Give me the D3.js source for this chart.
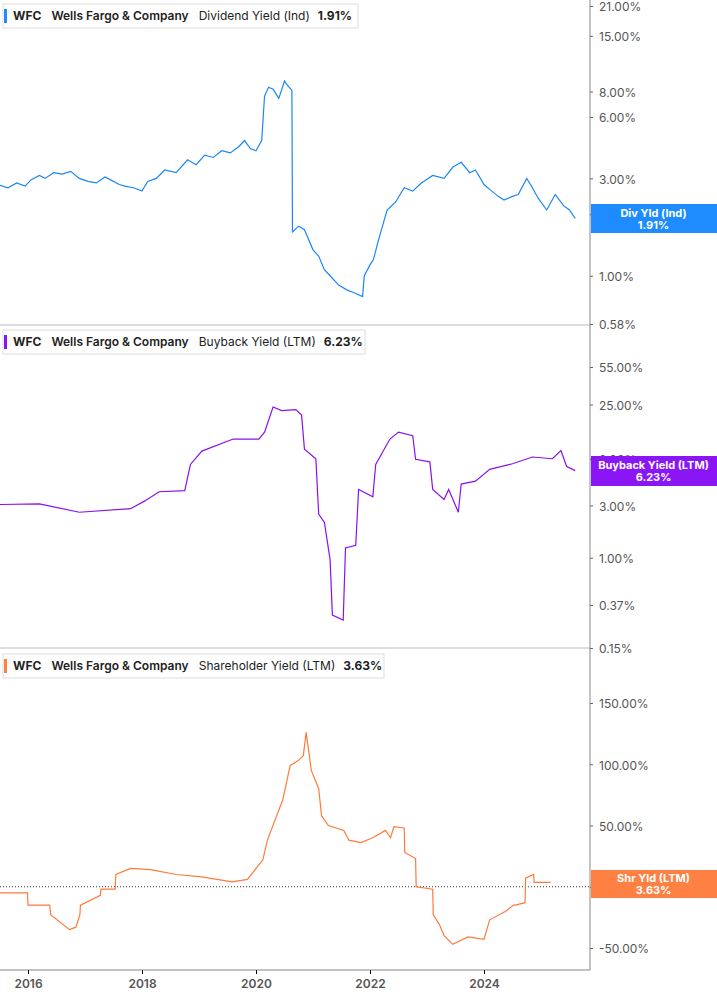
<!DOCTYPE html><html><head><meta charset="utf-8">
<script src="https://cdn.jsdelivr.net/npm/d3@7"></script>
<style>body{margin:0;background:#fff;font-family:Inter,"Noto Sans",sans-serif}</style></head><body>
<svg id="c" width="717" height="1005"></svg>
<script>
// decimal-year x positions and values (%)
const divX=[2015.5,2015.65,2015.8,2015.95,2016.05,2016.2,2016.3,2016.45,2016.6,2016.75,2016.9,2017.05,2017.2,2017.35,2017.45,2017.6,2017.7,2017.85,2018.0,2018.1,2018.25,2018.4,2018.6,2018.8,2018.95,2019.1,2019.25,2019.4,2019.55,2019.7,2019.8,2019.9,2020.0,2020.1,2020.15,2020.22,2020.3,2020.4,2020.5,2020.55,2020.63,2020.64,2020.75,2020.85,2021.0,2021.1,2021.2,2021.3,2021.45,2021.6,2021.7,2021.87,2021.9,2022.0,2022.06,2022.15,2022.3,2022.45,2022.6,2022.75,2022.9,2023.1,2023.3,2023.45,2023.6,2023.75,2023.85,2024.0,2024.1,2024.25,2024.35,2024.5,2024.6,2024.75,2024.85,2024.95,2025.1,2025.25,2025.4,2025.5,2025.6];
const divV=[2.78,2.7,2.85,2.75,2.95,3.1,3.0,3.2,3.15,3.25,3.0,2.9,2.85,3.05,2.95,2.8,2.75,2.7,2.6,2.9,3.0,3.3,3.2,3.7,3.5,3.9,3.8,4.1,4.0,4.3,4.6,4.2,4.1,4.6,7.6,8.4,8.2,7.4,9.0,8.6,8.1,1.64,1.75,1.68,1.34,1.25,1.07,1.0,0.9,0.85,0.83,0.79,1.0,1.13,1.2,1.5,2.1,2.3,2.7,2.6,2.85,3.1,3.0,3.4,3.6,3.2,3.3,2.8,2.65,2.45,2.35,2.45,2.5,3.0,2.7,2.4,2.1,2.5,2.2,2.1,1.91];
const bbX=[2015.5,2016.2,2016.9,2017.8,2018.05,2018.3,2018.75,2018.85,2019.05,2019.6,2020.05,2020.15,2020.3,2020.45,2020.7,2020.8,2020.85,2021.05,2021.1,2021.2,2021.3,2021.34,2021.53,2021.57,2021.75,2021.8,2022.05,2022.1,2022.35,2022.5,2022.75,2022.8,2023.05,2023.1,2023.3,2023.38,2023.55,2023.6,2023.85,2024.1,2024.5,2024.85,2025.2,2025.35,2025.45,2025.6];
const bbV=[3.06,3.1,2.6,2.8,3.3,4.0,4.1,7.1,9.4,12.1,12.1,14,23.7,22,22.5,20,9.8,8.0,2.5,2.1,0.96,0.3,0.27,1.23,1.3,4.2,3.6,7.1,12.1,14,13,7.9,7.5,4.2,3.4,4.2,2.6,4.7,5.0,6.4,7.2,8.3,8.0,9.5,6.8,6.23];
const shX=[2015.5,2015.99,2016.0,2016.38,2016.4,2016.73,2016.84,2016.91,2016.92,2017.27,2017.28,2017.53,2017.54,2017.8,2018.15,2018.6,2019.05,2019.58,2019.85,2020.12,2020.2,2020.33,2020.47,2020.6,2020.74,2020.83,2020.88,2020.97,2021.1,2021.15,2021.27,2021.54,2021.63,2021.84,2022.05,2022.27,2022.36,2022.42,2022.6,2022.61,2022.8,2022.81,2023.1,2023.11,2023.22,2023.3,2023.45,2023.72,2024.0,2024.1,2024.38,2024.52,2024.55,2024.72,2024.73,2024.87,2024.88,2025.17];
const shV=[-5,-5,-15,-15,-23,-35,-33,-23,-15,-7,-2,-2,10,15,14,10,8,4,6,22,38,54,71,99,103,107,126,95,80,58,50,46,38,36,40,46,40,49,48,28,23,0,-2,-23,-31,-40,-47,-41,-43,-27,-20,-15,-15,-13,7,10,3.63,3.63];
const yearTicks=[2016,2018,2020,2022,2024];
const divTicks=[21,15,8,6,3,2,1,0.58];
const bbTicks=[55,25,8,3,1,0.37,0.15];
const shTicks=[150,100,50,0,-50];

const svg=d3.select("#c");
const AX=590, W=717;
const x=d3.scaleLinear().domain([2016,2024]).range([28,484]);
const yDiv=d3.scaleLog().domain([0.58,21]).range([324,6]);
const yBb=d3.scaleLog().domain([0.15,55]).range([648,367]);
const ySh=d3.scaleLinear().domain([-50,150]).range([948,703]);
const fmt=v=>v.toFixed(2)+"%";

[325,648].forEach(y=>svg.append("line").attr("x1",0).attr("x2",AX).attr("y1",y).attr("y2",y).attr("stroke","#bbb"));
svg.append("line").attr("x1",AX).attr("x2",AX).attr("y1",0).attr("y2",970).attr("stroke","#888");
svg.append("line").attr("x1",0).attr("x2",AX).attr("y1",970).attr("y2",970).attr("stroke","#888");

function yAxis(scale,ticks){
  const g=svg.append("g").attr("transform",`translate(${AX},0)`)
   .call(d3.axisRight(scale).tickValues(ticks).tickFormat(fmt).tickSize(3).tickPadding(6));
  g.select(".domain").remove();
  g.selectAll("text").attr("fill","#555").style("font-size","12px").style("font-family","Inter").attr("dy","0.4em");
  g.selectAll("line").attr("stroke","#666");
}
yAxis(yDiv,divTicks);yAxis(yBb,bbTicks);yAxis(ySh,shTicks);

const xa=svg.append("g").attr("transform","translate(0,970)")
 .call(d3.axisBottom(x).tickValues(yearTicks).tickFormat(d3.format("d")).tickSize(4).tickPadding(5));
xa.select(".domain").remove();
xa.selectAll("text").attr("fill","#555").style("font-size","12px").style("font-weight","600").style("font-family","Inter");

svg.append("line").attr("x1",0).attr("x2",AX).attr("y1",ySh(0)).attr("y2",ySh(0)).attr("stroke","#333").attr("stroke-dasharray","1,2");

function line(xs,vs,ys,color){
  svg.append("path").datum(xs.map((d,i)=>[d,vs[i]]))
   .attr("d",d3.line().x(d=>x(d[0])).y(d=>ys(d[1]))).attr("fill","none").attr("stroke",color).attr("stroke-width",1.2);
}
line(divX,divV,yDiv,"#1a87f5");
line(bbX,bbV,yBb,"#8a10f0");
line(shX,shV,ySh,"#ff7a3a");

function badge(y0,h,color,t1,t2){
  svg.append("rect").attr("x",AX+1).attr("y",y0).attr("width",W-AX).attr("height",h).attr("fill",color);
  svg.append("text").attr("x",(AX+W)/2).attr("y",y0+h/2-2).attr("text-anchor","middle").attr("fill","#fff").style("font-size","11px").style("font-weight","700").text(t1);
  svg.append("text").attr("x",(AX+W)/2).attr("y",y0+h/2+10).attr("text-anchor","middle").attr("fill","#fff").style("font-size","11px").style("font-weight","700").text(t2);
}
badge(204,29,"#1e8cff","Div Yld (Ind)","1.91%");
badge(456,30,"#8a16f5","Buyback Yield (LTM)","6.23%");
badge(870,28,"#ff8043","Shr Yld (LTM)","3.63%");

function legend(y0,w,color,name,val){
  const g=svg.append("g").attr("transform",`translate(3,${y0})`);
  g.append("rect").attr("width",w).attr("height",24).attr("fill","#fff").attr("stroke","#ddd");
  g.append("rect").attr("x",1).attr("y",5).attr("width",3).attr("height",14).attr("fill",color);
  const t=g.append("text").attr("x",10).attr("y",16).style("font-size","12px").attr("fill","#222");
  t.append("tspan").style("font-weight","700").text("WFC");
  t.append("tspan").attr("dx",10).style("font-weight","600").text("Wells Fargo & Company");
  t.append("tspan").attr("dx",10).text(name);
  t.append("tspan").attr("dx",8).style("font-weight","700").text(val);
}
legend(4,355,"#1e8cff","Dividend Yield (Ind)","1.91%");
legend(330,362,"#8a16f5","Buyback Yield (LTM)","6.23%");
legend(654,381,"#ff8043","Shareholder Yield (LTM)","3.63%");
</script></body></html>
